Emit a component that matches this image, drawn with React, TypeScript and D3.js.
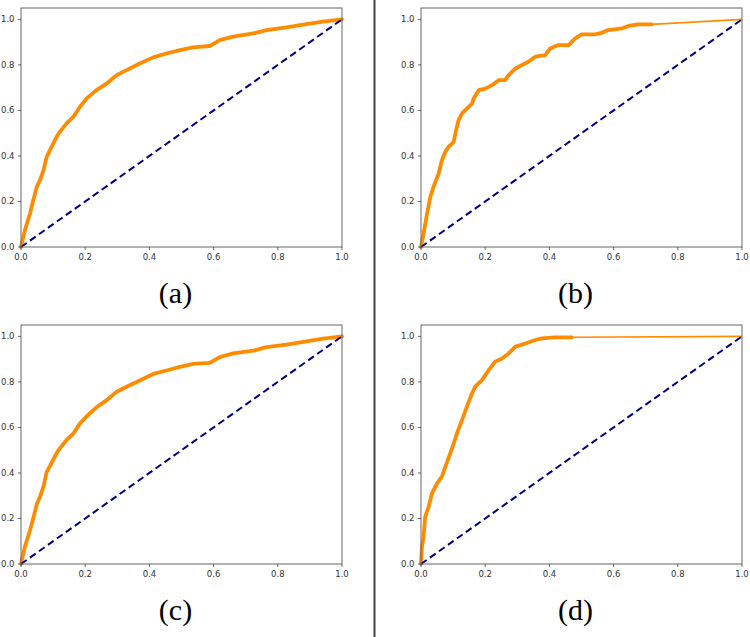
import React from "react";
import * as d3 from "d3";

// ROC curve data (false positive rate, true positive rate)
const fprA = [0, 0.012, 0.028, 0.038, 0.049, 0.059, 0.07, 0.08, 0.09, 0.111, 0.121, 0.142, 0.163, 0.184, 0.204, 0.235, 0.267, 0.298, 0.329, 0.37, 0.412, 0.453, 0.495, 0.536, 0.588, 0.619, 0.661, 0.723, 0.765, 0.827, 0.889, 0.941, 1.0];
const tprA = [0, 0.073, 0.147, 0.205, 0.264, 0.293, 0.337, 0.396, 0.425, 0.484, 0.506, 0.543, 0.572, 0.616, 0.652, 0.689, 0.718, 0.755, 0.777, 0.806, 0.833, 0.85, 0.865, 0.877, 0.883, 0.909, 0.924, 0.938, 0.953, 0.965, 0.979, 0.99, 1.0];

const fprB = [0, 0.008, 0.019, 0.029, 0.039, 0.055, 0.065, 0.076, 0.086, 0.102, 0.107, 0.117, 0.128, 0.143, 0.159, 0.164, 0.18, 0.2, 0.221, 0.242, 0.262, 0.273, 0.294, 0.314, 0.335, 0.356, 0.387, 0.402, 0.428, 0.46, 0.48, 0.5, 0.542, 0.563, 0.584, 0.626, 0.646, 0.677, 0.719];
const tprB = [0, 0.059, 0.147, 0.22, 0.264, 0.323, 0.381, 0.418, 0.44, 0.462, 0.499, 0.557, 0.587, 0.608, 0.63, 0.652, 0.689, 0.696, 0.711, 0.733, 0.733, 0.755, 0.784, 0.799, 0.814, 0.836, 0.843, 0.872, 0.887, 0.887, 0.916, 0.934, 0.934, 0.941, 0.953, 0.96, 0.971, 0.978, 0.978];

const fprC = [0, 0.012, 0.028, 0.038, 0.049, 0.059, 0.07, 0.08, 0.09, 0.111, 0.121, 0.142, 0.163, 0.184, 0.204, 0.235, 0.267, 0.298, 0.329, 0.37, 0.412, 0.453, 0.495, 0.536, 0.588, 0.619, 0.661, 0.723, 0.765, 0.827, 0.889, 0.941, 1.0];
const tprC = [0, 0.075, 0.148, 0.2, 0.262, 0.295, 0.34, 0.405, 0.43, 0.487, 0.508, 0.545, 0.573, 0.618, 0.648, 0.688, 0.72, 0.757, 0.779, 0.806, 0.835, 0.85, 0.866, 0.879, 0.884, 0.909, 0.925, 0.937, 0.953, 0.964, 0.978, 0.99, 1.0];

const fprD = [0, 0.003, 0.008, 0.013, 0.024, 0.034, 0.05, 0.065, 0.076, 0.091, 0.102, 0.112, 0.128, 0.143, 0.159, 0.169, 0.19, 0.211, 0.231, 0.252, 0.273, 0.294, 0.325, 0.356, 0.376, 0.418, 0.47];
const tprD = [0, 0.076, 0.12, 0.208, 0.252, 0.31, 0.354, 0.384, 0.428, 0.486, 0.53, 0.574, 0.633, 0.691, 0.75, 0.779, 0.808, 0.852, 0.889, 0.903, 0.925, 0.955, 0.969, 0.984, 0.991, 0.996, 0.996];

const panelLabels = ["(a)", "(b)", "(c)", "(d)"];
const tickValues = [0, 0.2, 0.4, 0.6, 0.8, 1.0];

type Panel = { fpr: number[]; tpr: number[]; label: string; left: number; top: number };

const W = 321;
const H = 239;

const panels: Panel[] = [
  { fpr: fprA, tpr: tprA, label: panelLabels[0], left: 21, top: 8 },
  { fpr: fprB, tpr: tprB, label: panelLabels[1], left: 421, top: 8 },
  { fpr: fprC, tpr: tprC, label: panelLabels[2], left: 21, top: 325 },
  { fpr: fprD, tpr: tprD, label: panelLabels[3], left: 421, top: 325 },
];

function RocPanel({ p }: { p: Panel }) {
  const x = d3.scaleLinear().domain([0, 1]).range([0, W]);
  const y = d3.scaleLinear().domain([0, 1.05]).range([H, 0]);
  const pts: [number, number][] = p.fpr.map((f, i) => [f, p.tpr[i]]);
  const full: [number, number][] = [...pts];
  const last = pts[pts.length - 1];
  if (last[0] < 1 || last[1] < 1) full.push([1, 1]);
  const line = d3
    .line<[number, number]>()
    .x((d) => x(d[0]))
    .y((d) => y(d[1]));
  const fmt = d3.format(".1f");
  return (
    <g transform={`translate(${p.left},${p.top})`}>
      <path d={line(full) || ""} fill="none" stroke="#ff8c00" strokeWidth={1.6} />
      <path d={line(pts) || ""} fill="none" stroke="#ff8c00" strokeWidth={3.8} strokeLinejoin="round" strokeLinecap="round" />
      <line x1={x(0)} y1={y(0)} x2={x(1)} y2={y(1)} stroke="#000080" strokeWidth={2} strokeDasharray="7,4" />
      <rect x={0} y={0} width={W} height={H} fill="none" stroke="#666" strokeWidth={1} />
      {tickValues.map((t) => (
        <g key={"x" + t}>
          <line x1={x(t)} x2={x(t)} y1={H} y2={H + 3} stroke="#444" strokeWidth={0.8} />
          <text x={x(t)} y={H + 13} textAnchor="middle" fontSize={8.5} fontFamily="DejaVu Sans" fill="#333">
            {fmt(t)}
          </text>
        </g>
      ))}
      {tickValues.map((t) => (
        <g key={"y" + t}>
          <line x1={-3} x2={0} y1={y(t)} y2={y(t)} stroke="#444" strokeWidth={0.8} />
          <text x={-6.5} y={y(t) + 3} textAnchor="end" fontSize={8.5} fontFamily="DejaVu Sans" fill="#333">
            {fmt(t)}
          </text>
        </g>
      ))}
      <text x={W / 2 - 6} y={H + 56} textAnchor="middle" fontSize={30} fontFamily="Liberation Serif, Times New Roman, serif" fill="#000">
        {p.label}
      </text>
    </g>
  );
}

export default function App() {
  return (
    <svg width={750} height={637} style={{ position: "absolute", left: 0, top: 0, background: "#fff" }}>
      <rect x={0} y={0} width={750} height={637} fill="#fff" />
      <line x1={374.5} x2={374.5} y1={0} y2={637} stroke="#444" strokeWidth={2} />
      {panels.map((p) => (
        <RocPanel key={p.label} p={p} />
      ))}
    </svg>
  );
}
